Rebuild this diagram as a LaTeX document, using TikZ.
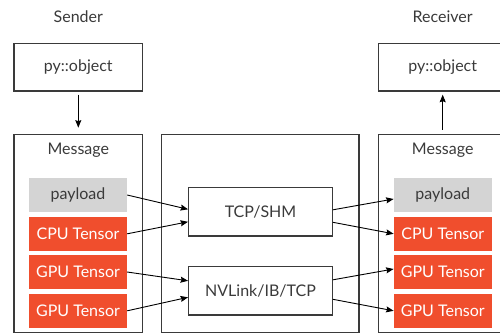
\documentclass[tikz,border=0pt]{standalone}
\usepackage{fontspec}
\setmainfont{Lato}
\usetikzlibrary{arrows.meta}

\definecolor{tensorred}{HTML}{F04E2D}
\definecolor{payloadgray}{HTML}{D4D4D4}
\definecolor{inkgray}{HTML}{3A3A3A}

\begin{document}
\begin{tikzpicture}[x=1pt, y=-1pt,
    box/.style={draw=inkgray, line width=1.3pt, rectangle, inner sep=0pt, text=inkgray, font=\fontsize{16}{18}\selectfont},
    field/.style={rectangle, inner sep=0pt, minimum width=98pt, minimum height=33.4pt, font=\fontsize{16}{18}\selectfont},
    payloadfield/.style={field, fill=payloadgray, text=inkgray},
    tensorfield/.style={field, fill=tensorred, text=white},
    link/.style={-{Stealth[length=7.5pt, width=6pt, inset=1pt]}, line width=0.9pt, black}]
    \useasboundingbox (0,0) rectangle (500,333);

    % Titulos
    \node[text=inkgray, font=\fontsize{16}{18}\selectfont] (senderlabel) at (78.3,17) {Sender};
    \node[text=inkgray, font=\fontsize{16}{18}\selectfont] (receiverlabel) at (442.7,17) {Receiver};

    % Objetos de Python
    \node[box, minimum width=128.7pt, minimum height=47.7pt] (pysend) at (78.3,67.2) {py::object};
    \node[box, minimum width=128.7pt, minimum height=47.7pt] (pyrecv) at (442.7,67.2) {py::object};

    % Cajas de mensaje y canal
    \node[box, minimum width=128.7pt, minimum height=198pt] (msgsend) at (78.3,233.3) {};
    \node[box, minimum width=197.3pt, minimum height=198pt] (channel) at (260.3,233.3) {};
    \node[box, minimum width=128.7pt, minimum height=198pt] (msgrecv) at (442.7,233.3) {};
    \node[text=inkgray, font=\fontsize{16}{18}\selectfont] (msgsendlabel) at (78.3,150.5) {Message};
    \node[text=inkgray, font=\fontsize{16}{18}\selectfont] (msgrecvlabel) at (442.7,150.5) {Message};

    % Campos del emisor
    \node[payloadfield] (payS) at (78,195) {payload};
    \node[tensorfield] (cpuS) at (78,233.8) {CPU Tensor};
    \node[tensorfield] (gpuSa) at (78,272) {GPU Tensor};
    \node[tensorfield] (gpuSb) at (78,310.8) {GPU Tensor};

    % Campos del receptor
    \node[payloadfield] (payR) at (442.8,195) {payload};
    \node[tensorfield] (cpuR) at (442.8,233.8) {CPU Tensor};
    \node[tensorfield] (gpuRa) at (442.8,272) {GPU Tensor};
    \node[tensorfield] (gpuRb) at (442.8,310.8) {GPU Tensor};

    % Transportes
    \node[box, minimum width=143.6pt, minimum height=48.3pt] (tcp) at (260.5,211.8) {TCP/SHM};
    \node[box, minimum width=143.6pt, minimum height=48.3pt] (nvlink) at (260.5,290.8) {NVLink/IB/TCP};

    % Flechas
    \draw[link] ([yshift=-3pt]pysend.south) -- ([yshift=6pt]msgsend.north);
    \draw[link] ([yshift=4pt]msgrecv.north) -- ([yshift=-3pt]pyrecv.south);

    \draw[link] (payS.east) -- ([yshift=2.5pt]tcp.west);
    \draw[link] (cpuS.east) -- ([yshift=-10pt]tcp.west);
    \draw[link] (gpuSa.east) -- ([yshift=10pt]nvlink.west);
    \draw[link] (gpuSb.east) -- ([yshift=-6.5pt]nvlink.west);

    \draw[link] ([yshift=2pt]tcp.east) -- ([yshift=-4pt]payR.west);
    \draw[link] ([yshift=-10.5pt]tcp.east) -- (cpuR.west);
    \draw[link] ([yshift=11pt]nvlink.east) -- ([yshift=3pt]gpuRa.west);
    \draw[link] ([yshift=-8.5pt]nvlink.east) -- (gpuRb.west);
\end{tikzpicture}
\end{document}
